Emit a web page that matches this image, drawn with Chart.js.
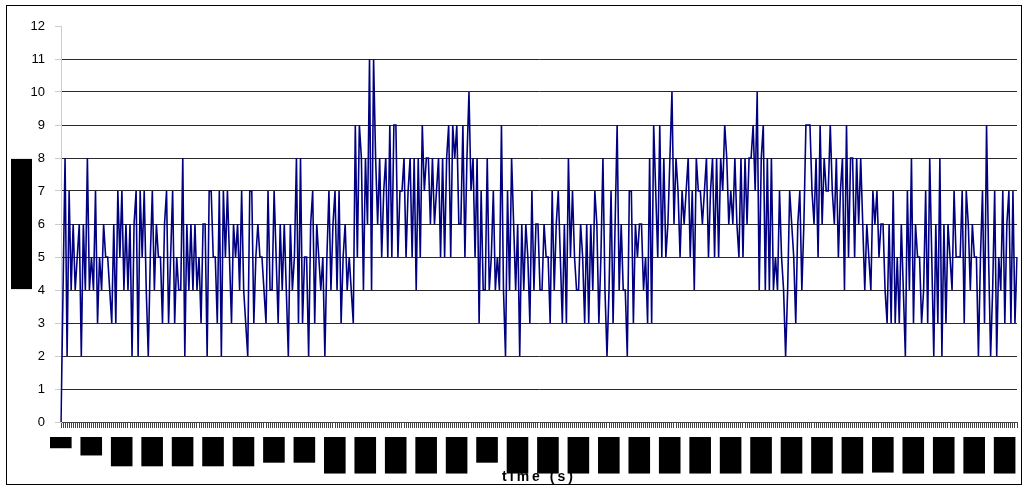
<!DOCTYPE html>
<html><head><meta charset="utf-8">
<script src="https://cdn.jsdelivr.net/npm/chart.js@4.4.0/dist/chart.umd.min.js"></script>
<style>html,body{margin:0;padding:0;background:#fff;}#wrap{position:relative;width:1026px;height:488px;}</style>
</head><body><div id="wrap"><canvas id="c" width="1026" height="488"></canvas></div>
<script>
// counts, in four stretches of the time axis
const seg1 = [
0,4,8,2,7,4,6,4,5,6,
2,6,4,8,4,5,4,7,3,5,
4,6,5,5,4,3,6,3,7,5,
7,4,6,4,6,2,6,7,2,7,
5,7,4,2,5,7,4,6,5,5,
3,6,7,3,5,7,3,5,4,4,
8,2,6,4,6,4,6,4,5,3,
6,6,2,7,7,5,5,3,7,2,
7,5,7,5,3,6,5,6,4,7,
4,3,2,7,7,3,5,6,5,5,
4,3,7,4,4,7,5,3,6,4,
6,4,2,6,4,5,8];
const seg2 = [
3,8,3,5,5,2,6,7,3,6,
5,4,5,2,5,7,4,6,7,
4,7,3,5,6,4,5,4,3,
9,5,9,8,4,8,6,11,4,
11,8,6,8,5,7,8,5,9,5,
9,9,5,7,7,8,5,7,
8,5,8,4,8,5,9,7,8,
8,6,8,6,7,8,5,8,5,
8,9,5,9,8,9,6,6,9,5,
8,10,7,8,5,8,3,7,4,4,
8,4,5,7,4,5,4,9,4,
2,7,4,8,6,4,6,2,
6,4,6,5,3,7,4,6];
const seg3 = [
6,4,4,6,5,5,3,7,
4,6,7,5,3,6,3,8,
5,7,5,4,4,6,5,3,
6,3,6,4,7,6,3,5,8,
4,2,4,7,3,6,
9,4,6,4,4,2,7,7,3,6,5,6,6,4,5,3,8,3,9,7,5,9,5,8,5,6,8,
10,6,8,7,5,7,6,7,8,5,7,4,8,7,7,6,7,8,5,7,8,5,8,5,8,7,9,8,6,7,6,8,6,5,8,5,8,6,8,8,9,7,
10,
4,8,9,4,8,4,8,4,5];
const seg4 = [
4,7,5,4,2,4,7,6,5,
3,6,7,4,6,9,9,9,7,
6,8,5,9,6,8,7,7,9,
7,6,8,5,7,8,4,9,5,
8,8,5,8,6,8,6,4,6,
5,4,7,6,7,5,6,6,4,
3,6,3,7,3,5,3,6,4,
2,7,4,
8,3,6,5,5,3,4,7,3,8,5,2,6,3,8,2,6,3,6,5,4,7,5,5,5,7,3,7,6,4,6,5,5,2,5,7,3,
9,
5,2,4,7,2,5,4,7,3,6,7,3,7,3,5];
const counts = [].concat(seg1, seg2, seg3, seg4);
const categories = counts.map((_, i) => i);
const labelStep = 15;
const tickLabels = ["0","15","30.5","45.7","61.0","76.2","91.4","107","122","137.1","152.3","167.6","182.8","198.1","213","228.6","243.8","259.1","274.3","289.6","304.8","320.0","335.3","350.5","365.8","381.0","396.2","411.5","426.7","442.0","457.2","472.4"];
const yMin = 0, yMax = 12, yStep = 1;
const xTitle = "time (s)";
const yTitle = "counts per interval";

const framePlugin = {
  id: 'frame',
  beforeDraw(chart) {
    const c = chart.ctx;
    c.save();
    c.fillStyle = '#fff';
    c.fillRect(0, 0, chart.width, chart.height);
    c.strokeStyle = '#000';
    c.lineWidth = 1;
    c.strokeRect(6.5, 5.5, chart.width - 11, chart.height - 9);
    c.restore();
  },
  afterDraw(chart) {
    const c = chart.ctx, a = chart.chartArea;
    c.save();
    c.font = '13px "Liberation Sans", Arial, sans-serif';
    const w = c.measureText(yTitle).width;
    c.translate(a.left - 39.5, (a.top + a.bottom) / 2);
    c.rotate(-Math.PI / 2);
    c.fillStyle = '#000';
    const bw = w + 24, bh = 21;
    c.fillRect(-bw / 2, -bh / 2, bw, bh);
    c.textAlign = 'center';
    c.textBaseline = 'middle';
    c.fillText(yTitle, 0, 0);
    c.restore();
    c.save();
    c.font = 'bold 14px "Liberation Sans", Arial, sans-serif';
    try { c.letterSpacing = '3px'; } catch (e) {}
    c.fillStyle = '#000';
    c.textAlign = 'center';
    c.textBaseline = 'alphabetic';
    c.fillText(xTitle, (a.left + a.right) / 2, chart.height - 7);
    c.restore();
  }
};

new Chart(document.getElementById('c'), {
  type: 'line',
  data: {
    labels: categories,
    datasets: [{
      data: counts,
      borderColor: '#000080',
      borderWidth: 1.6,
      pointRadius: 0,
      tension: 0,
      fill: false
    }]
  },
  options: {
    responsive: false,
    animation: false,
    devicePixelRatio: 1,
    layout: { padding: { left: 0, top: 26, right: 9, bottom: 0 } },
    plugins: { legend: { display: false }, tooltip: { enabled: false }, title: { display: false } },
    scales: {
      x: {
        type: 'category',
        offset: false,
        grid: { display: true, drawOnChartArea: false, drawTicks: true, tickLength: 6, tickColor: '#444', tickWidth: 1 },
        border: { display: true, color: '#444', width: 1 },
        ticks: {
          autoSkip: false,
          minRotation: 90,
          maxRotation: 90,
          padding: 11,
          labelOffset: -8,
          color: '#000',
          font: { family: '"Liberation Sans", Arial, sans-serif', size: 13 },
          callback: (v, i) => (i % labelStep === 0 ? tickLabels[i / labelStep] : ''),
          showLabelBackdrop: (c) => c.index % labelStep === 0,
          backdropColor: '#000',
          backdropPadding: { top: 3, bottom: 3, left: 2, right: 2 }
        },
        afterFit: (s) => { s.height = 66; s.paddingLeft = 0; s.paddingRight = 0; }
      },
      y: {
        min: yMin,
        max: yMax,
        ticks: {
          stepSize: yStep,
          color: '#000',
          padding: 10,
          font: { family: '"Liberation Sans", Arial, sans-serif', size: 13 }
        },
        grid: {
          color: (c) => (c.tick && (c.tick.value === yMin || c.tick.value === yMax)) ? 'rgba(0,0,0,0)' : '#2a2a2a',
          tickColor: '#cccccc',
          tickLength: 6,
          lineWidth: 1
        },
        border: { display: true, color: '#cccccc', width: 1 },
        afterFit: (s) => { s.width = 61; }
      }
    }
  },
  plugins: [framePlugin]
});
</script>
</body></html>
